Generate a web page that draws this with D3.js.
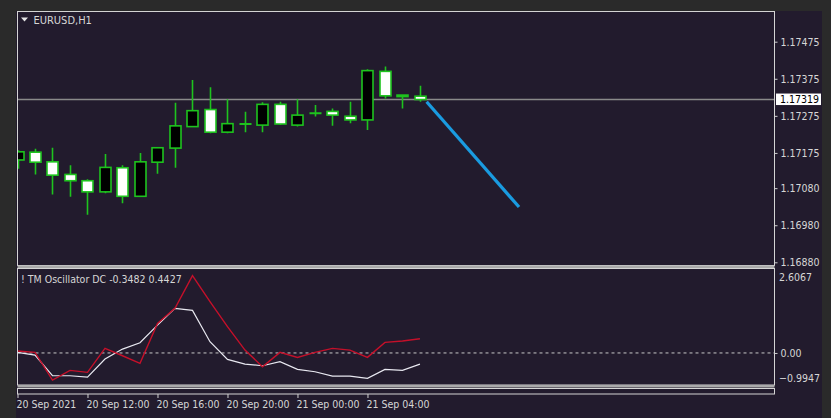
<!DOCTYPE html>
<html>
<head>
<meta charset="utf-8">
<script src="https://cdn.jsdelivr.net/npm/d3@7"></script>
<style>
  html, body { margin: 0; padding: 0; background: #2a2a2a; }
  svg { display: block; }
  text { font-family: "DejaVu Sans Condensed", "Liberation Sans", "DejaVu Sans", sans-serif; fill: #d6d6d6; }
</style>
</head>
<body>
<svg id="chart" width="831" height="418"></svg>
<script>
// ---------------- DATA ----------------
const barTimes = ["20 Sep 08:00","20 Sep 09:00","20 Sep 10:00","20 Sep 11:00","20 Sep 12:00","20 Sep 13:00",
  "20 Sep 14:00","20 Sep 15:00","20 Sep 16:00","20 Sep 17:00","20 Sep 18:00","20 Sep 19:00",
  "20 Sep 20:00","20 Sep 21:00","20 Sep 22:00","20 Sep 23:00","21 Sep 00:00","21 Sep 01:00",
  "21 Sep 02:00","21 Sep 03:00","21 Sep 04:00","21 Sep 05:00","21 Sep 06:00","21 Sep 07:00"];
const opens  = [1.17156,1.17177,1.17151,1.17117,1.17100,1.17070,1.17135,1.17058,1.17150,1.17188,1.17246,1.17292,
                1.17231,1.17253,1.17250,1.17306,1.17250,1.17282,1.17287,1.17274,1.17264,1.17395,1.17331,1.17328];
const highs  = [1.17182,1.17186,1.17189,1.17142,1.17104,1.17172,1.17142,1.17175,1.17190,1.17310,1.17372,1.17352,
                1.17320,1.17286,1.17312,1.17313,1.17320,1.17304,1.17295,1.17313,1.17401,1.17408,1.17331,1.17356];
const lows   = [1.17132,1.17117,1.17063,1.17057,1.17008,1.17066,1.17039,1.17057,1.17119,1.17135,1.17245,1.17228,
                1.17228,1.17231,1.17231,1.17250,1.17246,1.17273,1.17248,1.17255,1.17237,1.17322,1.17295,1.17313];
const closes = [1.17178,1.17150,1.17115,1.17100,1.17070,1.17136,1.17058,1.17151,1.17189,1.17248,1.17289,1.17231,
                1.17254,1.17253,1.17306,1.17253,1.17277,1.17282,1.17277,1.17264,1.17397,1.17329,1.17327,1.17319];
const bidPrice = 1.17319;
const priceTicks = [1.17475,1.17375,1.17275,1.17175,1.17080,1.16980,1.16880];

const oscRed   = [0.059,0.018,-0.842,-0.541,-0.603,0.142,-0.086,-0.324,0.918,1.384,2.398,1.591,
                  0.815,0.090,-0.428,0.018,-0.138,0.018,0.142,0.090,-0.138,0.328,0.370,0.4427];
const oscWhite = [0.018,-0.065,-0.707,-0.707,-0.748,-0.189,0.121,0.318,0.866,1.384,1.322,0.349,
                  -0.200,-0.345,-0.397,-0.272,-0.510,-0.583,-0.717,-0.717,-0.790,-0.510,-0.541,-0.3482];
const oscMax = 2.6067, oscMin = -0.9947;

const timeTickIdx    = [0,4,8,12,16,20];
const timeTickLabels = ["20 Sep 2021","20 Sep 12:00","20 Sep 16:00","20 Sep 20:00","21 Sep 00:00","21 Sep 04:00"];

// trendline anchor points (bar index, price)
const trendIdx   = [23.38, 28.66];
const trendPrice = [1.17313, 1.17029];

const symbolTitle = "EURUSD,H1";
const oscTitle = "! TM Oscillator DC -0.3482 0.4427";

// ---------------- LAYOUT ----------------
const svg = d3.select("#chart");
const L = 17.5, R = 774.5;
const mainTop = 11.5, mainBot = 265.5;
const oscTop = 268.5, oscBot = 385;

const x = d3.scaleLinear().domain([0, 43.26]).range([17.5, 774.5]);
const y = d3.scaleLinear().domain([1.16880, 1.17475]).range([262.3, 41.7]);
const yo = d3.scaleLinear().domain([oscMin, oscMax]).range([oscBot, oscTop + 0.5]);

// backgrounds
svg.append("rect").attr("x",0).attr("y",0).attr("width",831).attr("height",418).attr("fill","#2a2a2a");
svg.append("rect").attr("x",16).attr("y",11).attr("width",806).attr("height",407).attr("fill","#221b2d");

const defs = svg.append("defs");
defs.append("clipPath").attr("id","clipMain").append("rect")
  .attr("x",L).attr("y",mainTop).attr("width",R-L).attr("height",mainBot-mainTop);
defs.append("clipPath").attr("id","clipOsc").append("rect")
  .attr("x",L).attr("y",oscTop).attr("width",R-L).attr("height",oscBot-oscTop);

// ---------------- MAIN PANEL ----------------
const gMain = svg.append("g").attr("clip-path","url(#clipMain)");

// bid line
gMain.append("line").attr("x1",L).attr("x2",R).attr("y1",y(bidPrice)).attr("y2",y(bidPrice))
  .attr("stroke","#8a8a8a").attr("stroke-width",1.5);

const bars = d3.range(opens.length).map(i => ({i, o:opens[i], h:highs[i], l:lows[i], c:closes[i]}));
const green = "#1ec31e";
const bw = 11;
gMain.selectAll("line.wick").data(bars).enter().append("line")
  .attr("class","wick")
  .attr("x1", d => Math.round(x(d.i)) + 0.5).attr("x2", d => Math.round(x(d.i)) + 0.5)
  .attr("y1", d => y(d.h)).attr("y2", d => y(d.l))
  .attr("stroke", green).attr("stroke-width", 1.6);
bars.forEach(d => {
  const cx = Math.round(x(d.i)) + 0.5;
  const top = y(Math.max(d.o, d.c)), bot = y(Math.min(d.o, d.c));
  if (bot - top < 1) {
    gMain.append("line").attr("x1",cx-bw/2-0.5).attr("x2",cx+bw/2+0.5).attr("y1",top).attr("y2",top)
      .attr("stroke",green).attr("stroke-width",2);
  } else {
    gMain.append("rect").attr("x",cx-bw/2).attr("y",top).attr("width",bw).attr("height",bot-top)
      .attr("fill", d.c > d.o ? "#000000" : "#ffffff")
      .attr("stroke",green).attr("stroke-width",1.6);
  }
});

// trendline
gMain.append("line")
  .attr("x1",x(trendIdx[0])).attr("y1",y(trendPrice[0]))
  .attr("x2",x(trendIdx[1])).attr("y2",y(trendPrice[1]))
  .attr("stroke","#1a9be0").attr("stroke-width",3.2).attr("stroke-linecap","butt");

// title
svg.append("path").attr("d","M21,17.5 L28,17.5 L24.5,21.5 Z").attr("fill","#e6e6e6");
svg.append("text").attr("x",33.5).attr("y",24).attr("font-size",11).text(symbolTitle);

// price axis
const pAxis = d3.axisRight(y).tickValues(priceTicks).tickSize(3).tickPadding(3).tickFormat(d3.format(".5f"));
const gpa = svg.append("g").attr("transform",`translate(${R},0)`).call(pAxis);
gpa.select(".domain").remove();
gpa.selectAll(".tick line").attr("stroke","#d0d0d0");
gpa.selectAll(".tick text").attr("font-size",10.5).attr("fill","#d6d6d6")
  .style("font-family",'"DejaVu Sans Condensed","Liberation Sans",sans-serif');

// bid label box
const by = y(bidPrice);
svg.append("rect").attr("x",776).attr("y",by-6).attr("width",45).attr("height",11.5).attr("fill","#ffffff");
svg.append("text").attr("x",780).attr("y",by+3.8).attr("font-size",10.5).style("fill","#000000")
  .text(d3.format(".5f")(bidPrice));

// ---------------- OSCILLATOR ----------------
const gOsc = svg.append("g").attr("clip-path","url(#clipOsc)");
gOsc.append("line").attr("x1",L).attr("x2",R).attr("y1",yo(0)).attr("y2",yo(0))
  .attr("stroke","#c8c8c8").attr("stroke-width",1).attr("stroke-dasharray","3,3");
const ln = d3.line().x((d,i) => x(i)).y(d => yo(d));
gOsc.append("path").datum(oscWhite).attr("d",ln).attr("fill","none").attr("stroke","#e8e8f0").attr("stroke-width",1.2);
gOsc.append("path").datum(oscRed).attr("d",ln).attr("fill","none").attr("stroke","#c4102a").attr("stroke-width",1.4);

svg.append("text").attr("x",21).attr("y",283).attr("font-size",10.5).text(oscTitle);

// osc scale
const oAxis = d3.axisRight(yo).tickValues([0]).tickSize(3).tickPadding(3).tickFormat(d3.format(".2f"));
const goa = svg.append("g").attr("transform",`translate(${R},0)`).call(oAxis);
goa.select(".domain").remove();
goa.selectAll(".tick line").attr("stroke","#d0d0d0");
goa.selectAll(".tick text").attr("font-size",10.5).attr("fill","#d6d6d6");
svg.append("text").attr("x",779).attr("y",yo(oscMax)+12).attr("font-size",10.5).text(d3.format(".4f")(oscMax));
svg.append("text").attr("x",779).attr("y",yo(oscMin)-3).attr("font-size",10.5).text(d3.format(".4f")(oscMin));

// ---------------- FRAMES ----------------
svg.append("rect").attr("x",L).attr("y",mainTop).attr("width",R-L).attr("height",mainBot-mainTop)
  .attr("fill","none").attr("stroke","#d4d4d4").attr("stroke-width",1);
svg.append("rect").attr("x",L).attr("y",265.5).attr("width",R-L).attr("height",2.5).attr("fill","#a9a9a9");
svg.append("rect").attr("x",L).attr("y",oscTop).attr("width",R-L).attr("height",oscBot-oscTop)
  .attr("fill","none").attr("stroke","#d4d4d4").attr("stroke-width",1);
svg.append("rect").attr("x",L).attr("y",385).attr("width",R-L).attr("height",2.5).attr("fill","#a9a9a9");
svg.append("rect").attr("x",L).attr("y",388.5).attr("width",R-L).attr("height",5.5)
  .attr("fill","none").attr("stroke","#d4d4d4").attr("stroke-width",1);

// time axis
const tAxis = d3.axisBottom(x).tickValues(timeTickIdx).tickSize(4).tickPadding(3)
  .tickFormat((d,i) => timeTickLabels[i]);
const gta = svg.append("g").attr("transform","translate(0,394)").call(tAxis);
gta.select(".domain").remove();
gta.selectAll(".tick line").attr("stroke","#d0d0d0");
gta.selectAll(".tick text").attr("font-size",10.5).attr("fill","#d6d6d6")
  .attr("text-anchor","start").attr("dx",-1.5);
</script>
</body>
</html>
